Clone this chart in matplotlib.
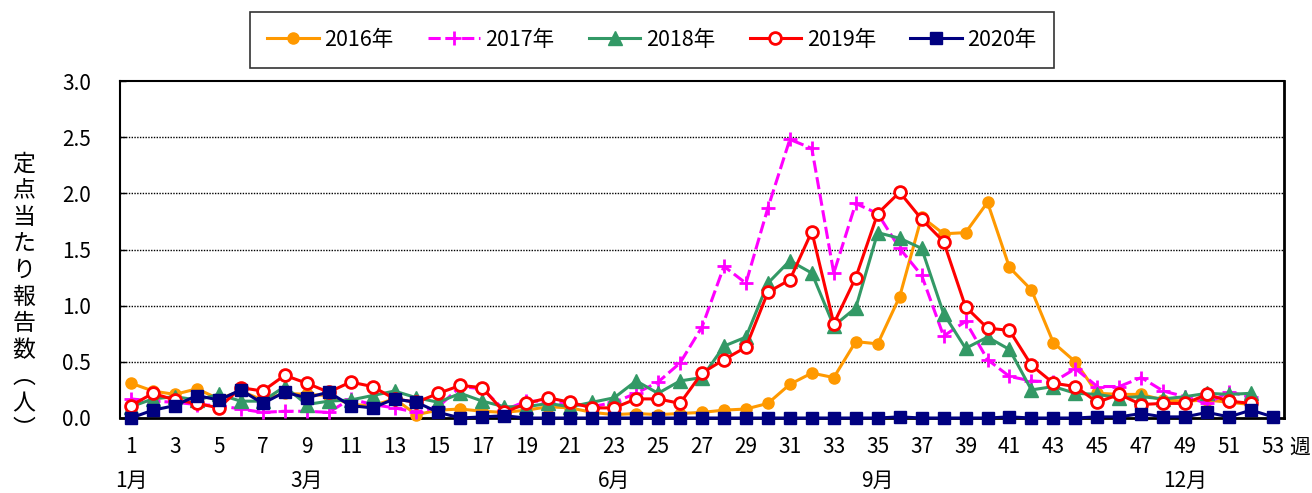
import matplotlib
matplotlib.use("Agg")
import matplotlib.pyplot as plt

plt.rcParams['font.family'] = ['Noto Sans CJK JP', 'DejaVu Sans']

weeks = list(range(1, 54))
tick_weeks = list(range(1, 54, 2))
tick_labels = [str(w) for w in tick_weeks]
month_weeks = [1, 9, 23, 35, 49]
month_labels = ["1月", "3月", "6月", "9月", "12月"]

y2016 = [0.31, 0.24, 0.21, 0.26, 0.17, 0.24, 0.16, 0.22, 0.21, 0.20,
         0.12, 0.11, 0.17, 0.03, 0.07, 0.08, 0.06, 0.05, 0.07, 0.10,
         0.09, 0.05, 0.03, 0.04, 0.03, 0.04, 0.05, 0.07, 0.08, 0.13,
         0.30, 0.40, 0.36, 0.68, 0.66, 1.08, 1.79, 1.64, 1.65, 1.92,
         1.34, 1.14, 0.67, 0.50, 0.22, 0.21, 0.21, 0.16, 0.15, 0.16, 0.14, 0.12]
y2017 = [0.17, 0.15, 0.14, 0.12, 0.11, 0.08, 0.05, 0.06, 0.06, 0.05,
         0.17, 0.12, 0.09, 0.05, 0.10, 0.28, 0.26, 0.07, 0.15, 0.15,
         0.13, 0.10, 0.14, 0.22, 0.32, 0.49, 0.81, 1.35, 1.20, 1.87,
         2.48, 2.40, 1.29, 1.91, 1.82, 1.51, 1.27, 0.73, 0.86, 0.52,
         0.37, 0.33, 0.32, 0.44, 0.28, 0.28, 0.36, 0.24, 0.19, 0.13, 0.23, 0.19]
y2018 = [0.10, 0.17, 0.19, 0.16, 0.21, 0.15, 0.15, 0.28, 0.12, 0.15,
         0.16, 0.20, 0.24, 0.18, 0.14, 0.22, 0.15, 0.10, 0.10, 0.13,
         0.10, 0.14, 0.18, 0.33, 0.22, 0.33, 0.36, 0.64, 0.72, 1.20,
         1.40, 1.29, 0.82, 0.98, 1.65, 1.60, 1.51, 0.93, 0.62, 0.72,
         0.61, 0.25, 0.28, 0.22, 0.21, 0.18, 0.19, 0.17, 0.19, 0.22, 0.21, 0.22]
y2019 = [0.11, 0.22, 0.16, 0.13, 0.09, 0.27, 0.24, 0.38, 0.31, 0.23,
         0.32, 0.28, 0.17, 0.14, 0.22, 0.29, 0.27, 0.05, 0.13, 0.18,
         0.14, 0.09, 0.09, 0.17, 0.17, 0.13, 0.40, 0.52, 0.63, 1.12,
         1.23, 1.66, 0.84, 1.25, 1.82, 2.01, 1.77, 1.57, 0.99, 0.80,
         0.78, 0.47, 0.31, 0.28, 0.14, 0.21, 0.12, 0.13, 0.13, 0.21, 0.15, 0.13]
y2020 = [0.00, 0.07, 0.11, 0.20, 0.16, 0.25, 0.13, 0.23, 0.18, 0.23,
         0.11, 0.09, 0.17, 0.14, 0.05, 0.00, 0.01, 0.02, 0.00, 0.00,
         0.00, 0.00, 0.00, 0.00, 0.00, 0.00, 0.00, 0.00, 0.00, 0.00,
         0.00, 0.00, 0.00, 0.00, 0.00, 0.01, 0.00, 0.00, 0.00, 0.00,
         0.01, 0.00, 0.00, 0.00, 0.01, 0.01, 0.04, 0.01, 0.01, 0.05, 0.01, 0.07, 0.01]

series_names = ["2016年", "2017年", "2018年", "2019年", "2020年"]

fig = plt.figure(figsize=(13.12, 4.93), dpi=100)
ax = fig.add_axes([120/1312, 1-418/493, (1284-120)/1312, (418-81)/493])

lw = 2.2
styles = [
    dict(color="#FF9900", marker="o", ms=8, mfc="#FF9900", mec="#FF9900", ls="-"),
    dict(color="#FF00FF", marker="+", ms=10, mew=2, ls=(0, (4, 1.5))),
    dict(color="#339966", marker="^", ms=9.5, mfc="#339966", mec="#339966", ls="-"),
    dict(color="#FF0000", marker="o", ms=8.5, mfc="white", mec="#FF0000", mew=2, ls="-"),
    dict(color="#000080", marker="s", ms=9, mfc="#000080", mec="#000080", ls="-"),
]
data = [y2016, y2017, y2018, y2019, y2020]
handles = []
for i, (y, st, name) in enumerate(zip(data, styles, series_names)):
    x = weeks[:len(y)]
    h, = ax.plot(x, y, lw=lw, label=name, zorder=3 + i, clip_on=False, **st)
    handles.append(h)

ax.set_xlim(0.5, 53.5)
ax.set_ylim(0, 3.0)
ax.set_yticks([0, 0.5, 1.0, 1.5, 2.0, 2.5, 3.0])
ax.set_yticklabels(["0.0", "0.5", "1.0", "1.5", "2.0", "2.5", "3.0"])
ax.set_xticks(tick_weeks)
ax.set_xticklabels(tick_labels)
ax.tick_params(axis='y', direction='in', length=4, width=1, pad=21, labelsize=15)
ax.tick_params(axis='x', length=0, pad=13, labelsize=15)
for yv in [0.5, 1.0, 1.5, 2.0, 2.5]:
    ax.axhline(yv, color="black", lw=1, ls=(0, (1, 1)), zorder=1)
for s in ax.spines.values():
    s.set_color("black")
    s.set_linewidth(1.5)
ax.spines['bottom'].set_linewidth(2)
ax.spines['right'].set_linewidth(2)

trans = ax.get_xaxis_transform()
for w, lab in zip(month_weeks, month_labels):
    ax.text(w, -0.187, lab, transform=trans, ha="center", va="center", fontsize=15)
ax.text(54.2, -0.087, "週", transform=trans, ha="center", va="center", fontsize=15)

ylabel = "定点当たり報告数︵人︶"
fig.text(24/1312, 1-297/493, "\n".join(ylabel), ha="center", va="center",
         fontsize=16.5, linespacing=1.2)

leg = fig.legend(handles=handles, loc="center", bbox_to_anchor=(652/1312, 1-40/493),
                 ncol=5, frameon=True, fancybox=False, fontsize=15.5,
                 handlelength=2.4, columnspacing=1.6, handletextpad=0.25,
                 borderpad=0.8)
leg.get_frame().set_edgecolor("black")
leg.get_frame().set_linewidth(1.2)

fig.savefig("out.png", dpi=100)
